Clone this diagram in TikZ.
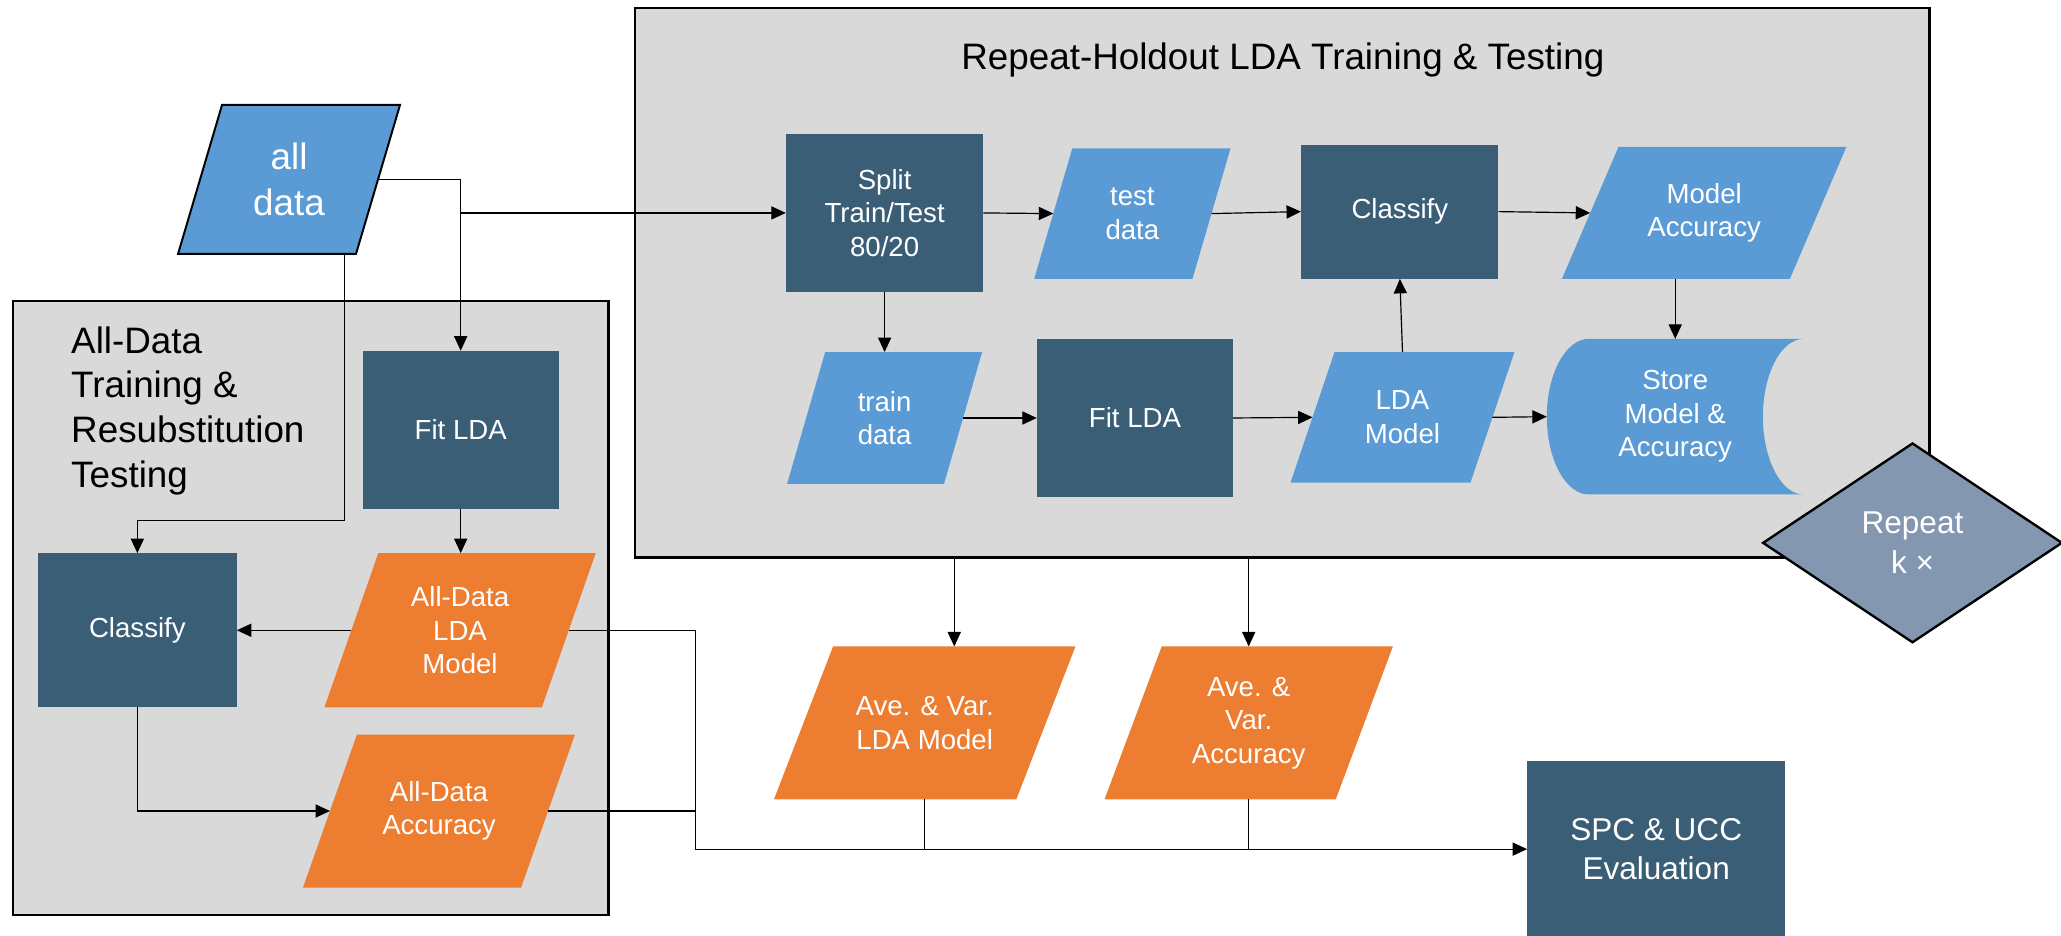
\documentclass[tikz,border=0pt]{standalone}
\usepackage{fontspec}
\setmainfont{Liberation Sans}
\usetikzlibrary{arrows.meta,shapes.geometric}

\definecolor{navy}{HTML}{3B5E77}
\definecolor{sky}{HTML}{5B9BD5}
\definecolor{amber}{HTML}{ED7D31}
\definecolor{panelgray}{HTML}{D9D9D9}
\definecolor{slate}{HTML}{8497B0}

\pgfdeclarelayer{panel}
\pgfdeclarelayer{shape}
\pgfsetlayers{panel,shape,main}

\tikzset{
  lbl/.style={rectangle, inner sep=0pt, align=center, text=white,
    font=\fontsize{21}{25.5}\selectfont},
  procbox/.style={lbl, fill=navy},
  panelbox/.style={draw=black, line width=2pt, fill=panelgray, inner sep=0pt},
  heading/.style={inner sep=0pt, text=black, font=\fontsize{28}{34}\selectfont},
  conn/.style={line width=0.9pt, draw=black},
  arr/.style={conn, -{Triangle[length=11pt,width=10pt]}},
}

% Slanted data box: [node options]{name}{centre}{side length}{height}{slant}{fill style}{text}
\newcommand\slanted[8][]{%
  \node[lbl, minimum width=#4pt, minimum height=#5pt, #1] (#2) at (#3) {#8};
  \begin{pgfonlayer}{shape}
    \path[#7] ([xshift=#6pt/2]#2.north west) -- ([xshift=#6pt/2]#2.north east)
      -- ([xshift=-#6pt/2]#2.south east) -- ([xshift=-#6pt/2]#2.south west) -- cycle;
  \end{pgfonlayer}
}

\begin{document}
\begin{tikzpicture}[x=1pt, y=-1pt]
\useasboundingbox (0,0) rectangle (1568,712);

% panels
\begin{pgfonlayer}{panel}
  \node[panelbox, minimum width=985pt, minimum height=418pt] (repbox) at (975.5,215) {};
  \node[panelbox, minimum width=453pt, minimum height=467pt] (leftbox) at (236.5,462.5) {};
\end{pgfonlayer}
\node[heading] (reptitle) at (976,46) {Repeat-Holdout LDA Training \& Testing};
\node[heading, align=left, anchor=west] (lefttitle) at (54,312.5)
  {All-Data\\Training \&\\Resubstitution\\Testing};

% input data
\slanted[font=\fontsize{28}{35}\selectfont]{alldata}{219.9,136.5}{135}{113}{33.5}
  {fill=sky, draw=black, line width=1.5pt}{all\\data}

% all-data training and resubstitution testing
\node[procbox, minimum width=149pt, minimum height=120pt] (fitL) at (350.5,327) {Fit LDA};
\node[procbox, minimum width=151pt, minimum height=117pt] (classL) at (104.5,479.5) {Classify};
\slanted{adlda}{350,479.5}{165}{117}{41}{fill=amber}{All-Data\\LDA\\Model}
\slanted{adacc}{334,617}{165.5}{116}{41}{fill=amber}{All-Data\\Accuracy}

% repeated holdout loop
\node[procbox, minimum width=150pt, minimum height=120pt] (split) at (673,162) {Split\\Train/Test\\80/20};
\slanted{testdata}{861.5,162.5}{120}{99}{29}{fill=sky}{test\\data}
\node[procbox, minimum width=150pt, minimum height=102pt] (classR) at (1065,161) {Classify};
\slanted{modelacc}{1296.5,162}{173}{100}{43}{fill=sky}{Model\\Accuracy}
\slanted{traindata}{673,318}{119}{100}{29}{fill=sky}{train\\data}
\node[procbox, minimum width=149pt, minimum height=120pt] (fitR) at (863.5,318) {Fit LDA};
\slanted{ldamodel}{1067,317.5}{136.5}{99}{33.5}{fill=sky}{LDA\\Model}

% stored results (drum shape)
\node[lbl, minimum width=195pt, minimum height=118pt] (store) at (1274.5,317) {Store\\Model \&\\Accuracy};
\begin{pgfonlayer}{shape}
  \fill[sky] ([xshift=32pt]store.north west)
    .. controls ([xshift=14.3pt]store.north west) and ([yshift=32.6pt]store.west) .. (store.west)
    .. controls ([yshift=-32.6pt]store.west) and ([xshift=14.3pt]store.south west) .. ([xshift=32pt]store.south west)
    -- (store.south east)
    .. controls ([xshift=-17.1pt]store.south east) and ([xshift=-31pt,yshift=-32.6pt]store.east) .. ([xshift=-31pt]store.east)
    .. controls ([xshift=-31pt,yshift=32.6pt]store.east) and ([xshift=-17.1pt]store.north east) .. (store.north east)
    -- cycle;
\end{pgfonlayer}

\node[diamond, aspect=1.5, draw=black, line width=1.8pt, fill=slate, minimum width=228pt,
  minimum height=152pt, inner sep=0pt, text=white, align=center,
  font=\fontsize{24}{30}\selectfont] (repeat) at (1455,413) {Repeat\\k ×};

% summaries and evaluation
\slanted{avelda}{703.5,550}{184}{116}{45}{fill=amber}{Ave. \& Var.\\LDA Model}
\slanted{aveacc}{950,550}{175.5}{116}{43.5}{fill=amber}{Ave. \&\\Var.\\Accuracy}
\node[procbox, minimum width=196pt, minimum height=134pt, font=\fontsize{24}{29}\selectfont]
  (spc) at (1260,646) {SPC \& UCC\\Evaluation};

% connectors
\draw[arr] (alldata.east) -| (fitL.north);
\draw[arr] (fitL.north |- split.west) -- (split.west);
\draw[arr] ([xshift=42.5pt]alldata.south) -- ++(0,203) -| (classL.north);
\draw[arr] (fitL.south) -- (fitL.south |- adlda.north);
\draw[arr] (adlda.west) -- (classL.east);
\draw[arr] (classL.south) |- (adacc.west);

\draw[arr] (split.east) -- (testdata.west);
\draw[arr] (testdata.east) -- (classR.west);
\draw[arr] (classR.east) -- (modelacc.west);
\draw[arr] (modelacc.south -| store.north) -- (store.north);
\draw[arr] (split.south) -- (split.south |- traindata.north);
\draw[arr] (traindata.east) -- (fitR.west);
\draw[arr] (fitR.east) -- (ldamodel.west);
\draw[arr] (ldamodel.north) -- (classR.south);
\draw[arr] (ldamodel.east) -- (store.west);

\draw[arr] ([xshift=22.5pt]avelda.north |- repbox.south) -- ([xshift=22.5pt]avelda.north);
\draw[arr] (aveacc.north |- repbox.south) -- (aveacc.north);

\coordinate (bus) at (529,646);
\draw[arr] (adlda.east) -| (bus) -- (spc.west);
\draw[conn] (adacc.east) -- (adacc.east -| bus);
\draw[conn] (avelda.south) -- (avelda.south |- bus);
\draw[conn] (aveacc.south) -- (aveacc.south |- bus);
\end{tikzpicture}
\end{document}
